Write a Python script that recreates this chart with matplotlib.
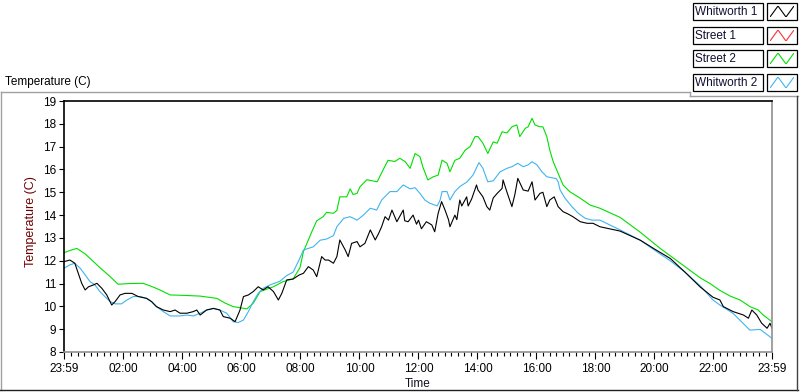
import matplotlib
matplotlib.use("Agg")
import matplotlib.pyplot as plt
from matplotlib.patches import Rectangle
from matplotlib.lines import Line2D

plt.rcParams['font.family'] = ['Liberation Sans', 'DejaVu Sans']

# ---------------- data (minutes since 23:59, temperature in C) ----------------
series_names = ["Whitworth 1", "Street 1", "Street 2", "Whitworth 2"]
series_colors = ["#000000", "#ff3030", "#00e000", "#40b4f0"]

w1_min = [0, 12, 22, 29, 36, 43, 50, 60, 67, 77, 87, 97, 104, 114, 124, 138, 151, 168, 178, 188,
          202, 216, 226, 236, 250, 263, 270, 277, 290, 304, 317, 324, 338, 348, 358, 365, 375, 385,
          395, 405, 415, 426, 436, 443, 453, 466, 478, 487, 497, 507, 514, 524, 531, 538, 548, 555,
          561, 572, 578, 585, 596, 602, 612, 623, 633, 640, 646, 653, 660, 667, 677, 683, 690, 693,
          700, 710, 717, 721, 727, 737, 748, 754, 761, 768, 775, 782, 785, 795, 799, 805, 809, 819,
          822, 829, 839, 842, 852, 860, 866, 873, 881, 891, 893, 901, 911, 917, 923, 934, 944, 952,
          958, 968, 974, 982, 988, 997, 1005, 1015, 1025, 1035, 1050, 1064, 1076, 1090, 1131, 1172,
          1202, 1233, 1263, 1294, 1320, 1334, 1341, 1361, 1382, 1392, 1399, 1409, 1419, 1430, 1436, 1440]
w1_temp = [11.96, 12.03, 11.89, 11.45, 11.01, 10.72, 10.86, 10.94, 11.01, 10.79, 10.5, 10.06, 10.21,
           10.5, 10.57, 10.57, 10.43, 10.35, 10.21, 9.99, 9.84, 9.77, 9.84, 9.7, 9.7, 9.77, 9.84, 9.62,
           9.84, 9.91, 9.84, 9.55, 9.48, 9.33, 9.84, 10.43, 10.5, 10.65, 10.86, 10.72, 10.86, 10.65,
           10.28, 10.57, 11.16, 11.2, 11.37, 11.45, 11.74, 11.59, 11.3, 12.18, 12.03, 12.03, 11.89,
           12.18, 12.91, 12.47, 12.18, 12.76, 12.84, 12.61, 12.76, 13.35, 12.91, 13.2, 13.49, 13.93,
           13.78, 14.22, 13.71, 13.95, 14.22, 13.75, 13.71, 14.0, 13.6, 13.78, 13.4, 13.71, 13.57,
           13.27, 14.08, 14.59, 14.22, 13.8, 13.49, 14.0, 13.8, 14.66, 14.4, 14.8, 14.4, 14.7, 15.32,
           15.1, 14.8, 14.37, 14.22, 14.75, 14.95, 15.17, 15.54, 15.0, 14.37, 14.9, 15.61, 15.1, 15.05,
           15.46, 14.66, 14.95, 15.0, 14.37, 14.66, 14.8, 14.37, 14.15, 14.05, 13.93, 13.71, 13.64,
           13.64, 13.49, 13.3, 12.9, 12.5, 12.1, 11.5, 10.85, 10.4, 10.28, 9.99, 9.77, 9.62, 9.48,
           9.84, 9.62, 9.26, 9.04, 9.26, 9.04]

s1_min = []
s1_temp = []

s2_min = [0, 12, 26, 43, 60, 73, 94, 110, 134, 161, 182, 195, 216, 246, 277, 311, 327, 344, 372, 385,
          399, 426, 445, 466, 480, 487, 497, 504, 514, 527, 534, 548, 555, 561, 575, 582, 588, 596,
          602, 616, 637, 649, 659, 673, 683, 694, 704, 714, 724, 730, 740, 751, 761, 769, 779, 785,
          795, 805, 816, 826, 836, 842, 852, 862, 873, 881, 891, 901, 911, 921, 927, 938, 944, 952,
          958, 968, 974, 982, 988, 995, 1005, 1015, 1029, 1050, 1070, 1090, 1131, 1172, 1212, 1253,
          1294, 1314, 1334, 1355, 1375, 1395, 1412, 1422, 1440]
s2_temp = [12.35, 12.45, 12.54, 12.3, 11.96, 11.7, 11.3, 10.97, 11.0, 11.01, 10.84, 10.72, 10.5, 10.48,
           10.45, 10.35, 10.15, 9.99, 9.89, 10.14, 10.65, 10.86, 11.08, 11.2, 11.7, 12.4, 12.91, 13.27,
           13.75, 13.93, 14.12, 14.08, 14.2, 14.8, 14.8, 15.15, 14.9, 14.95, 15.24, 15.55, 15.46,
           15.98, 16.4, 16.35, 16.49, 16.34, 16.05, 16.7, 16.56, 16.1, 15.54, 15.68, 15.75, 16.41,
           16.27, 15.9, 16.4, 16.49, 16.85, 17.0, 17.44, 17.44, 17.15, 16.7, 17.21, 17.15, 17.65,
           17.6, 17.87, 17.95, 17.44, 17.8, 17.87, 18.24, 17.95, 17.87, 17.87, 17.44, 16.85, 16.34,
           15.83, 15.32, 15.02, 14.74, 14.44, 14.3, 13.9, 13.25, 12.55, 11.9, 11.25, 11.0, 10.7,
           10.45, 10.28, 9.99, 9.84, 9.62, 9.33]

w2_min = [0, 12, 22, 33, 43, 53, 63, 73, 83, 94, 104, 117, 128, 141, 155, 168, 178, 188, 202, 216,
          236, 250, 263, 277, 290, 304, 317, 331, 344, 354, 365, 375, 385, 395, 405, 419, 439, 453,
          466, 478, 487, 507, 521, 534, 548, 555, 569, 582, 596, 609, 623, 636, 646, 663, 677, 683,
          690, 704, 714, 724, 734, 744, 759, 765, 769, 779, 785, 795, 805, 820, 832, 844, 852, 862,
          873, 887, 901, 911, 923, 934, 944, 952, 962, 972, 982, 1001, 1005, 1009, 1019, 1033, 1046,
          1060, 1074, 1090, 1131, 1172, 1202, 1233, 1263, 1294, 1320, 1334, 1361, 1395, 1416, 1440]
w2_temp = [11.67, 11.82, 11.89, 11.67, 11.38, 11.08, 10.94, 10.65, 10.43, 10.21, 10.11, 10.11, 10.28,
           10.43, 10.43, 10.35, 10.21, 9.99, 9.77, 9.58, 9.58, 9.62, 9.58, 9.7, 9.84, 9.91, 9.84, 9.7,
           9.33, 9.29, 9.4, 9.77, 10.21, 10.57, 10.79, 10.94, 11.1, 11.35, 11.5, 12.03, 12.47, 12.61,
           12.9, 12.95, 13.1, 13.49, 13.86, 13.93, 13.78, 14.0, 14.3, 14.22, 14.66, 15.03, 15.03,
           15.17, 15.32, 15.15, 15.2, 14.95, 14.66, 14.52, 14.4, 14.66, 15.03, 15.03, 14.66, 15.03,
           15.25, 15.46, 15.76, 16.3, 16.05, 15.46, 15.5, 15.9, 16.05, 16.12, 16.27, 16.12, 16.2,
           16.34, 16.2, 15.9, 15.68, 15.6, 15.46, 15.1, 14.74, 14.37, 14.08, 13.86, 13.78, 13.78,
           13.35, 12.9, 12.45, 12.0, 11.5, 10.9, 10.28, 10.06, 9.69, 8.96, 8.99, 8.6]

x_tick_minutes = [0, 121, 241, 361, 481, 601, 721, 841, 961, 1081, 1201, 1321, 1440]
x_tick_labels = ["23:59", "02:00", "04:00", "06:00", "08:00", "10:00", "12:00",
                 "14:00", "16:00", "18:00", "20:00", "22:00", "23:59"]
y_ticks = list(range(8, 20))

# ---------------- figure ----------------
W, H = 800, 392
fig = plt.figure(figsize=(W / 100, H / 100), dpi=100)
fig.patch.set_facecolor("white")


def fx(px):
    return px / W


def fy(py):
    return (H - py) / H


ax = fig.add_axes([fx(64), fy(352), (772 - 64) / W, (352 - 101) / H])
ax.set_facecolor("white")

data = [(w1_min, w1_temp), (s1_min, s1_temp), (s2_min, s2_temp), (w2_min, w2_temp)]
for i in [2, 3, 1, 0]:
    m, t = data[i]
    if len(m):
        ax.plot(m, t, color=series_colors[i], lw=0.8)

ax.set_xlim(0, 1440)
ax.set_ylim(8, 19)
ax.set_xticks(x_tick_minutes)
ax.set_xticklabels(x_tick_labels)
minor = [1 + k * 120 / 9 for k in range(0, 109)]
minor = [v for v in minor if v < 1440 and all(abs(v - mj) > 2 for mj in x_tick_minutes)]
ax.set_xticks(minor, minor=True)
ax.set_yticks(y_ticks)

for s in ["left", "top"]:
    ax.spines[s].set_color("black")
    ax.spines[s].set_linewidth(1.2)
for s in ["right", "bottom"]:
    ax.spines[s].set_color("#909090")
    ax.spines[s].set_linewidth(1.2)

ax.tick_params(axis="x", which="major", direction="out", length=5, width=0.8,
               color="black", labelsize=8.5, pad=3)
ax.tick_params(axis="x", which="minor", direction="out", length=3, width=0.8, color="black")
ax.tick_params(axis="y", which="major", direction="out", length=3.5, width=0.8,
               color="black", labelsize=8.5, pad=2)

# axis labels
fig.text(fx(31), fy(222), "Temperature (C)", rotation=90, ha="center", va="center",
         fontsize=9, color="#700000")
fig.text(fx(418), fy(384), "Time", ha="center", va="center", fontsize=8.5, color="#101020")
fig.text(fx(5), fy(82), "Temperature (C)", ha="left", va="center", fontsize=8.5, color="black")


# outer frame
def fline(x0, y0, x1, y1, color, lw=1.0):
    fig.add_artist(Line2D([fx(x0), fx(x1)], [fy(y0), fy(y1)], color=color, lw=lw,
                          transform=fig.transFigure))


fline(0.5, 92, 690, 92, "#a0a0a0")
fline(690, 92, 690, 96, "#a0a0a0")
fline(690, 96, 798, 96, "#a0a0a0")
fline(1, 92, 1, 390, "#a0a0a0")
fline(0, 390, 798, 390, "#202020")
fline(797, 96, 797, 390, "#404040")

# legend
row_tops = [3, 27, 50, 74]
box_h = 17
for i, name in enumerate(series_names):
    top = row_tops[i]
    fig.add_artist(Rectangle((fx(692.5), fy(top + box_h)), (763 - 692.5) / W, box_h / H,
                             transform=fig.transFigure, facecolor="none", edgecolor="black",
                             lw=0.9))
    fig.text(fx(695), fy(top + box_h / 2 + 0.5), name, ha="left", va="center",
             fontsize=8.5, color="#101030")
    fig.add_artist(Rectangle((fx(767), fy(top + box_h)), (797 - 767) / W, box_h / H,
                             transform=fig.transFigure, facecolor="none", edgecolor="black",
                             lw=0.9))
    sw = fig.add_axes([fx(770), fy(top + box_h - 3), (794 - 770) / W, (box_h - 6) / H])
    sw.set_axis_off()
    sw.set_xlim(0, 3)
    sw.set_ylim(0, 1)
    sw.plot([0, 1, 2, 3], [0, 1, 0, 1], color=series_colors[i], lw=0.8)

fig.savefig("out.png", dpi=100, facecolor="white")
